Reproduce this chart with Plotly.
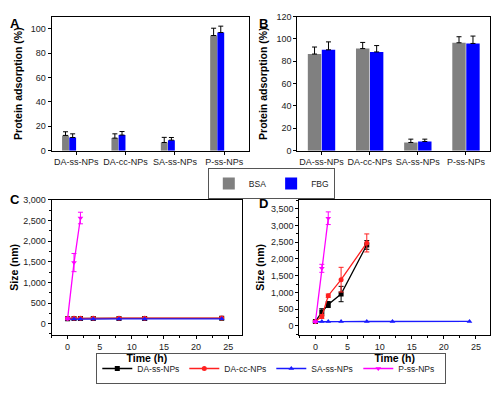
import plotly.graph_objects as go

FONT = "Liberation Sans, Arial, sans-serif"

# ---- Data: panels A & B (protein adsorption, %) ----
categories = ["DA-ss-NPs", "DA-cc-NPs", "SA-ss-NPs", "P-ss-NPs"]
a_bsa = [12.5, 10.3, 6.7, 94.5]
a_bsa_err = [3.0, 3.5, 4.2, 6.0]
a_fbg = [10.8, 12.8, 8.6, 97.0]
a_fbg_err = [3.0, 2.9, 2.2, 5.2]

b_bsa = [86.5, 91.4, 7.3, 96.6]
b_bsa_err = [6.3, 5.5, 3.0, 5.4]
b_fbg = [90.3, 88.4, 8.2, 96.0]
b_fbg_err = [7.1, 5.7, 2.1, 6.6]

# ---- Data: panels C & D (size, nm vs time, h) ----
time_full = [0, 1, 2, 4, 8, 12, 24]
time_p = [0, 1, 2]
time_d_ss = [0, 1, 2, 4, 8]

c_da_ss = [120, 125, 122, 124, 126, 125, 128]
c_da_cc = [125, 130, 128, 130, 132, 131, 135]
c_sa_ss = [110, 112, 110, 112, 115, 114, 116]
c_p_ss = [120, 1480, 2560]
c_p_ss_err = [20, 220, 140]

d_da_ss = [130, 410, 636, 950, 2420]
d_da_ss_err = [20, 100, 90, 230, 130]
d_da_cc = [130, 280, 900, 1380, 2480]
d_da_cc_err = [20, 60, 50, 370, 270]
d_sa_ss = [120, 125, 125, 125, 128, 125, 130]
d_p_ss = [120, 1720, 3220]
d_p_ss_err = [20, 120, 190]

bar_names = ["BSA", "FBG"]
GRAY = "#808080"
BLUE = "#0000FF"
series_names = ["DA-ss-NPs", "DA-cc-NPs", "SA-ss-NPs", "P-ss-NPs"]
series_colors = ["#000000", "#FF2020", "#1A1AFF", "#FF00FF"]
series_symbols = ["square", "circle", "triangle-up", "triangle-down"]

fig = go.Figure()


def bars(y, err, name, color, xa, ya):
    fig.add_trace(go.Bar(
        x=categories, y=y, name=name, marker_color=color,
        marker_line_width=0, xaxis=xa, yaxis=ya,
        error_y=dict(type="data", array=err, arrayminus=[0] * len(err),
                     color="#000000", thickness=1, width=2.5),
        showlegend=False,
    ))


bars(a_bsa, a_bsa_err, bar_names[0], GRAY, "x", "y")
bars(a_fbg, a_fbg_err, bar_names[1], BLUE, "x", "y")
bars(b_bsa, b_bsa_err, bar_names[0], GRAY, "x2", "y2")
bars(b_fbg, b_fbg_err, bar_names[1], BLUE, "x2", "y2")

# legend entries for bars (no error bars in the legend symbol)
for nm, col in zip(bar_names, [GRAY, BLUE]):
    fig.add_trace(go.Bar(x=[None], y=[None], name=nm, marker_color=col,
                         marker_line_width=0, xaxis="x", yaxis="y",
                         showlegend=True, legend="legend"))


def line(x, y, err, idx, xa, ya, show):
    c = series_colors[idx]
    fig.add_trace(go.Scatter(
        x=x, y=y, mode="lines+markers", name=series_names[idx],
        line=dict(color=c, width=1.3),
        marker=dict(symbol=series_symbols[idx], size=5, color=c),
        error_y=(dict(type="data", array=err, color=c, thickness=1, width=2.5)
                 if err is not None else None),
        xaxis=xa, yaxis=ya, showlegend=show, legend="legend2",
    ))


# Panel C
line(time_full, c_da_ss, None, 0, "x3", "y3", True)
line(time_full, c_da_cc, None, 1, "x3", "y3", True)
line(time_full, c_sa_ss, None, 2, "x3", "y3", True)
line(time_p, c_p_ss, c_p_ss_err, 3, "x3", "y3", True)
# Panel D
line(time_d_ss, d_da_ss, d_da_ss_err, 0, "x4", "y4", False)
line(time_d_ss, d_da_cc, d_da_cc_err, 1, "x4", "y4", False)
line(time_full, d_sa_ss, None, 2, "x4", "y4", False)
line(time_p, d_p_ss, d_p_ss_err, 3, "x4", "y4", False)

# The page body keeps an 8px margin (plus a little extra height below the
# figure), so the figure is sized to fit the 500x407 window without scrolling.
REF_W, REF_H = 500, 407
W, H = 484, 381


def fx(p):
    return p / REF_W


def fy(p):
    return 1 - p / REF_H


def px(xl, xr):
    return [fx(xl), fx(xr)]


def py(top, bottom):
    return [fy(bottom), fy(top)]


axis_common = dict(
    showline=True, linecolor="#000000", linewidth=1, mirror=True,
    ticks="outside", ticklen=3, tickcolor="#000000",
    tickfont=dict(family=FONT, size=9, color="#222222"),
    showgrid=False, zeroline=False,
)
title_font = dict(family=FONT, size=10.5, color="#000000")
legend_common = dict(orientation="h", xanchor="center",
                     bordercolor="#555555", borderwidth=1, bgcolor="white",
                     font=dict(family=FONT, size=8.5, color="#222222"),
                     itemwidth=30, tracegroupgap=0)

fig.update_layout(
    width=W, height=H, margin=dict(l=0, r=0, t=0, b=0),
    paper_bgcolor="white", plot_bgcolor="white",
    barmode="group", bargap=0.42, bargroupgap=0.04,
    font=dict(family=FONT, color="#000000"),
    xaxis=dict(domain=px(45, 249), anchor="y", **axis_common),
    yaxis=dict(domain=py(4, 151), anchor="x", range=[0, 110], dtick=20,
               title=dict(text="<b>Protein adsorption (%)</b>", font=title_font, standoff=6),
               **axis_common),
    xaxis2=dict(domain=px(299, 498), anchor="y2", **axis_common),
    yaxis2=dict(domain=py(4, 151), anchor="x2", range=[0, 120], dtick=20,
                title=dict(text="<b>Protein adsorption (%)</b>", font=title_font, standoff=6),
                **axis_common),
    xaxis3=dict(domain=px(45, 242), anchor="y3", range=[-2.5, 27.2], dtick=5,
                minor=dict(dtick=2.5, ticks="outside", ticklen=2, tickcolor="#000000"),
                title=dict(text="<b>Time (h)</b>", font=title_font, standoff=2),
                **axis_common),
    yaxis3=dict(domain=py(205, 353), anchor="x3", range=[-270, 3000], dtick=500,
                tickformat=",",
                minor=dict(dtick=250, ticks="outside", ticklen=2, tickcolor="#000000"),
                title=dict(text="<b>Size (nm)</b>", font=title_font, standoff=4),
                **axis_common),
    xaxis4=dict(domain=px(301, 498), anchor="y4", range=[-2.5, 27.2], dtick=5,
                minor=dict(dtick=2.5, ticks="outside", ticklen=2, tickcolor="#000000"),
                title=dict(text="<b>Time (h)</b>", font=title_font, standoff=2),
                **axis_common),
    yaxis4=dict(domain=py(205, 353), anchor="x4", range=[-270, 3770], dtick=500,
                tickformat=",",
                minor=dict(dtick=250, ticks="outside", ticklen=2, tickcolor="#000000"),
                title=dict(text="<b>Size (nm)</b>", font=title_font, standoff=4),
                **axis_common),
    legend=dict(x=fx(272), y=fy(170), yanchor="top", **legend_common),
    legend2=dict(x=fx(272), y=fy(407), yanchor="bottom", entrywidth=42, **legend_common),
)

labels = [("A", 0, 1), ("B", 257, 1), ("C", 0, 194), ("D", 257, 199)]
for t, x, y in labels:
    fig.add_annotation(text=f"<b>{t}</b>", x=fx(x), y=fy(y), xref="paper", yref="paper",
                       xanchor="left", yanchor="top", showarrow=False,
                       font=dict(family=FONT, size=13, color="#000000"))

fig.write_html("out.html")
